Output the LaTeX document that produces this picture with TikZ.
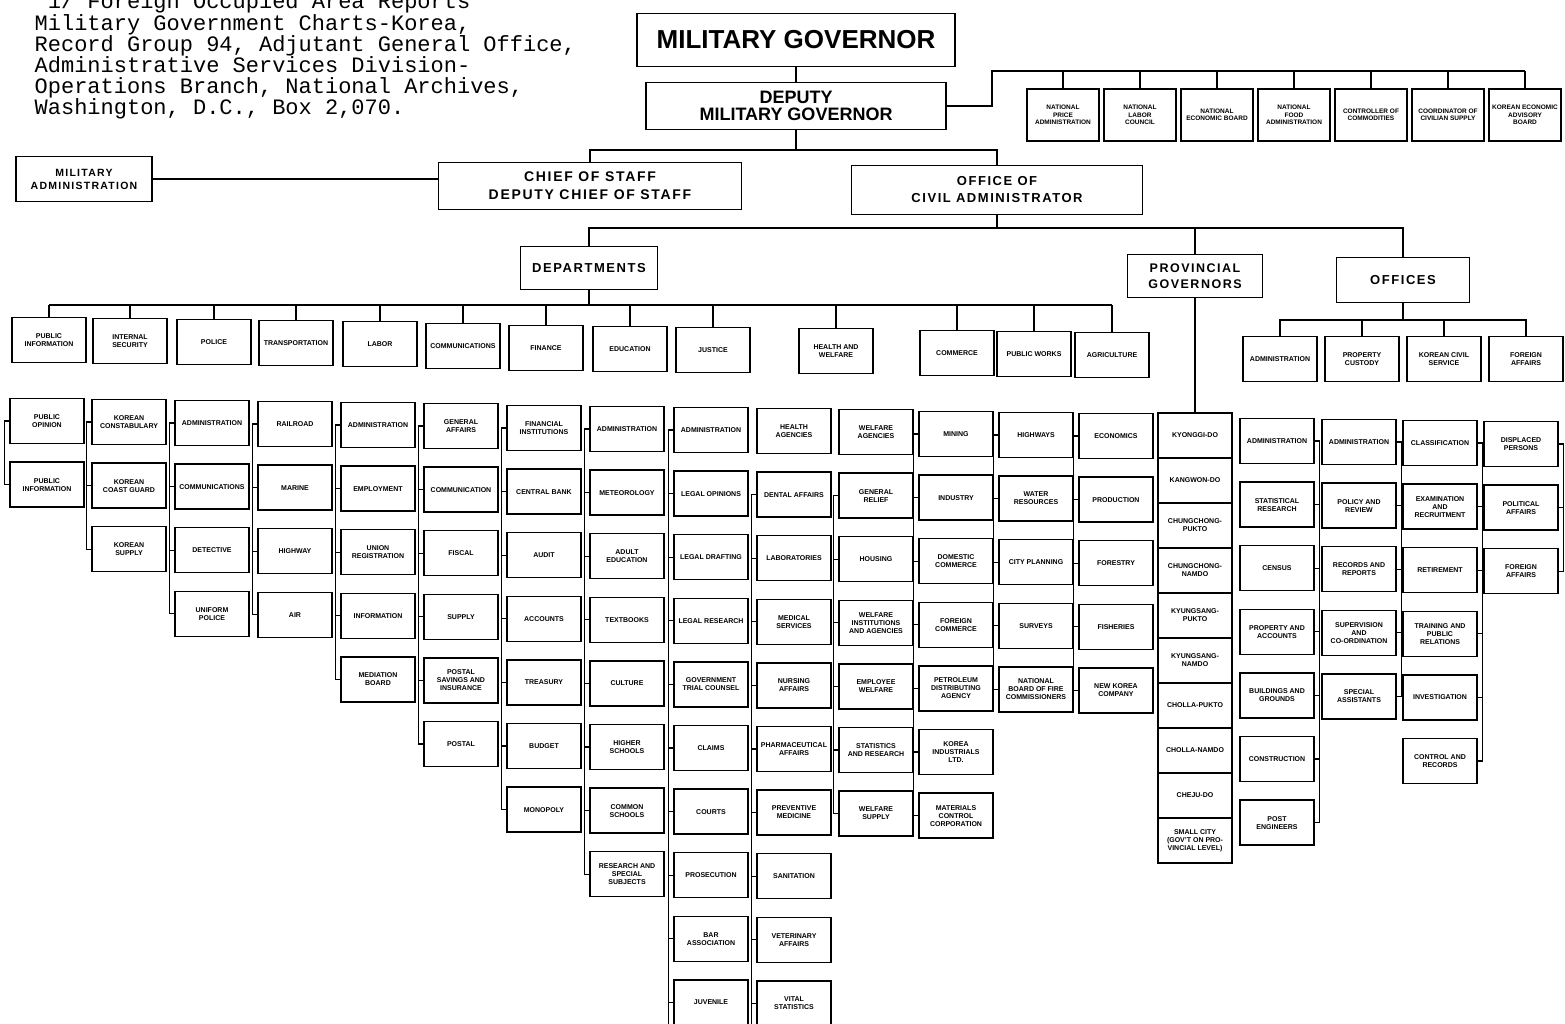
\documentclass[tikz,border=0pt]{standalone}
\usepackage{fontspec}
\setmainfont{Liberation Sans}
\setmonofont{Liberation Mono}
\newfontfamily\widesf[LetterSpace=12]{Liberation Sans}
\usetikzlibrary{calc}
\tikzset{box/.style={draw,line width=1.4pt,align=center,inner sep=2pt},
  sub/.style={draw,line width=1.3pt,minimum width=74pt,minimum height=45pt,inner sep=1pt,align=center,font=\fontsize{7}{8}\selectfont\bfseries},
  src/.style={anchor=base west,inner sep=0pt,font=\fontsize{22}{21}\selectfont\ttfamily}}
\newcommand\subcol[6]{%
  \foreach \lbl [count=\i] in {#6}{%
    \node[sub] (#1\i) at (#2,#3+63.6*\i-63.6) {\lbl};
    \ifnum\i=#4 \draw (#1\i.#5) -- ($(#1\i.#5)!-5pt!(#1\i.center)$);\fi
    \ifnum\i>#4 \pgfmathtruncatemacro\prev{\i-1}\draw ($(#1\prev.#5)!-5pt!(#1\prev.center)$) |- (#1\i.#5);\fi}}
\begin{document}
\begin{tikzpicture}[x=1pt,y=-1pt,line width=1.3pt]
\path[use as bounding box,fill=white] (0,0) rectangle (1565,1024);
\foreach \lbl [count=\i] in {{\ 1/ Foreign Occupied Area Reports},{Military Government Charts-Korea,},{Record Group 94, Adjutant General Office,},{Administrative Services Division-},{Operations Branch, National Archives,},{Washington, D.C., Box 2,070.}}
  \node[src] (src\i) at (34,9+21.2*\i-21.2) {\lbl};

\node[box,minimum width=318pt,minimum height=53pt,font=\fontsize{26}{28}\selectfont\bfseries] (mg) at (796,40) {MILITARY GOVERNOR};
\node[box,minimum width=300pt,minimum height=47pt,font=\fontsize{18}{17.5}\selectfont\bfseries] (dmg) at (796,106) {DEPUTY\\MILITARY GOVERNOR};
\node[box,minimum width=136pt,minimum height=45pt,font=\fontsize{10.5}{13}\selectfont\widesf\bfseries] (ma) at (84,179) {MILITARY\\ADMINISTRATION};
\node[box,minimum width=303pt,minimum height=47pt,font=\fontsize{14}{18}\selectfont\widesf\bfseries] (cos) at (590,186) {CHIEF OF STAFF\\DEPUTY CHIEF OF STAFF};
\node[box,minimum width=291pt,minimum height=49pt,font=\fontsize{13}{17}\selectfont\widesf\bfseries] (oca) at (997,190) {OFFICE OF\\CIVIL ADMINISTRATOR};
\node[box,minimum width=137pt,minimum height=43pt,font=\fontsize{13}{16}\selectfont\widesf\bfseries] (dep) at (589,268) {DEPARTMENTS};
\node[box,minimum width=135pt,minimum height=43pt,font=\fontsize{12.5}{16}\selectfont\widesf\bfseries] (pg) at (1195,276) {PROVINCIAL\\GOVERNORS};
\node[box,minimum width=133pt,minimum height=45pt,font=\fontsize{13}{16}\selectfont\widesf\bfseries] (off) at (1403,280) {OFFICES};

\foreach \lbl [count=\i] in {NATIONAL\\PRICE\\ADMINISTRATION,NATIONAL\\LABOR\\COUNCIL,NATIONAL\\ECONOMIC BOARD,NATIONAL\\FOOD\\ADMINISTRATION,CONTROLLER OF\\COMMODITIES,COORDINATOR OF\\CIVILIAN SUPPLY,KOREAN ECONOMIC\\ADVISORY\\BOARD}
  \node[sub,minimum width=72pt,minimum height=52pt,font=\fontsize{6.5}{7.5}\selectfont\bfseries] (t\i) at (1063+77*\i-77,115) {\lbl};
\foreach \lbl/\x/\y [count=\i] in {PUBLIC\\INFORMATION/49/340,INTERNAL\\SECURITY/130/341,POLICE/214/342,TRANSPORTATION/296/343,LABOR/380/344,COMMUNICATIONS/463/346,FINANCE/546/348,EDUCATION/630/349,JUSTICE/713/350,HEALTH AND\\WELFARE/836/351,COMMERCE/957/353,PUBLIC WORKS/1034/354,AGRICULTURE/1112/355}
  \node[sub] (d\i) at (\x,\y) {\lbl};
\foreach \lbl/\x [count=\i] in {ADMINISTRATION/1280,PROPERTY\\CUSTODY/1362,KOREAN CIVIL\\SERVICE/1444,FOREIGN\\AFFAIRS/1526}
  \node[sub] (o\i) at (\x,359) {\lbl};
\foreach \lbl [count=\i] in {KYONGGI-DO,KANGWON-DO,CHUNGCHONG-\\PUKTO,CHUNGCHONG-\\NAMDO,KYUNGSANG-\\PUKTO,KYUNGSANG-\\NAMDO,CHOLLA-PUKTO,CHOLLA-NAMDO,CHEJU-DO,SMALL CITY\\(GOV'T ON PRO-\\VINCIAL LEVEL)}
  \node[sub] (p\i) at (1195,390.5+45*\i) {\lbl};

\subcol{pinf}{47}{421}{1}{west}{PUBLIC\\OPINION,PUBLIC\\INFORMATION}
\subcol{sec}{129}{422}{1}{west}{KOREAN\\CONSTABULARY,KOREAN\\COAST GUARD,KOREAN\\SUPPLY}
\subcol{pol}{212}{423}{1}{west}{ADMINISTRATION,COMMUNICATIONS,DETECTIVE,UNIFORM\\POLICE}
\subcol{tra}{295}{424}{1}{west}{RAILROAD,MARINE,HIGHWAY,AIR}
\subcol{lab}{378}{425}{1}{west}{ADMINISTRATION,EMPLOYMENT,UNION\\REGISTRATION,INFORMATION,MEDIATION\\BOARD}
\subcol{com}{461}{426}{1}{west}{GENERAL\\AFFAIRS,COMMUNICATION,FISCAL,SUPPLY,POSTAL\\SAVINGS AND\\INSURANCE,POSTAL}
\subcol{fin}{544}{428}{1}{west}{FINANCIAL\\INSTITUTIONS,CENTRAL BANK,AUDIT,ACCOUNTS,TREASURY,BUDGET,MONOPOLY}
\subcol{edu}{627}{429}{1}{west}{ADMINISTRATION,METEOROLOGY,ADULT\\EDUCATION,TEXTBOOKS,CULTURE,HIGHER\\SCHOOLS,COMMON\\SCHOOLS,RESEARCH AND\\SPECIAL\\SUBJECTS}
\subcol{jus}{711}{430}{1}{west}{ADMINISTRATION,LEGAL OPINIONS,LEGAL DRAFTING,LEGAL RESEARCH,GOVERNMENT\\TRIAL COUNSEL,CLAIMS,COURTS,PROSECUTION,BAR\\ASSOCIATION,JUVENILE}
\subcol{hea}{794}{431}{2}{west}{HEALTH\\AGENCIES,DENTAL AFFAIRS,LABORATORIES,MEDICAL\\SERVICES,NURSING\\AFFAIRS,PHARMACEUTICAL\\AFFAIRS,PREVENTIVE\\MEDICINE,SANITATION,VETERINARY\\AFFAIRS,VITAL\\STATISTICS}
\subcol{wel}{876}{432}{2}{west}{WELFARE\\AGENCIES,GENERAL\\RELIEF,HOUSING,WELFARE\\INSTITUTIONS\\AND AGENCIES,EMPLOYEE\\WELFARE,STATISTICS\\AND RESEARCH,WELFARE\\SUPPLY}
\subcol{cmc}{956}{434}{1}{west}{MINING,INDUSTRY,DOMESTIC\\COMMERCE,FOREIGN\\COMMERCE,PETROLEUM\\DISTRIBUTING\\AGENCY,KOREA\\INDUSTRIALS\\LTD.,MATERIALS\\CONTROL\\CORPORATION}
\subcol{pw}{1036}{435}{1}{west}{HIGHWAYS,WATER\\RESOURCES,CITY PLANNING,SURVEYS,NATIONAL\\BOARD OF FIRE\\COMMISSIONERS}
\subcol{agr}{1116}{436}{1}{west}{ECONOMICS,PRODUCTION,FORESTRY,FISHERIES,NEW KOREA\\COMPANY}
\subcol{oadm}{1277}{441}{1}{east}{ADMINISTRATION,STATISTICAL\\RESEARCH,CENSUS,PROPERTY AND\\ACCOUNTS,BUILDINGS AND\\GROUNDS,CONSTRUCTION,POST\\ENGINEERS}
\subcol{prop}{1359}{442}{1}{east}{ADMINISTRATION,POLICY AND\\REVIEW,RECORDS AND\\REPORTS,SUPERVISION\\AND\\CO-ORDINATION,SPECIAL\\ASSISTANTS}
\subcol{civ}{1440}{443}{1}{east}{CLASSIFICATION,EXAMINATION\\AND\\RECRUITMENT,RETIREMENT,TRAINING AND\\PUBLIC\\RELATIONS,INVESTIGATION,CONTROL AND\\RECORDS}
\subcol{for}{1521}{444}{1}{east}{DISPLACED\\PERSONS,POLITICAL\\AFFAIRS,FOREIGN\\AFFAIRS}
\draw ($(jus10.west)!-5pt!(jus10.center)$) -- ++(0,25);
\draw ($(hea10.west)!-5pt!(hea10.center)$) -- ++(0,25);

\draw (mg) -- (dmg);
\coordinate (tbus) at (992,71);
\draw (dmg.east) -| (tbus) -- (t7.north |- tbus);
\foreach \i in {1,...,7} \draw (t\i.north |- tbus) -- (t\i.north);
\coordinate (cbus) at (796,150);
\draw (dmg) -- (cbus);
\draw (cos.north) |- (cbus) -| (oca.north);
\draw (ma.east) -- (ma.east -| cos.west);
\coordinate (obus) at (997,228);
\draw (oca) -- (obus);
\draw (dep.north) |- (obus) -| (off.north);
\draw (pg.north) -- (pg.north |- obus);
\coordinate (dbus) at (589,305);
\draw (dep) -- (dbus);
\draw (d1.north |- dbus) -- (d13.north |- dbus);
\foreach \i in {1,...,13} \draw (d\i.north |- dbus) -- (d\i.north);
\draw (pg) -- (p1);
\coordinate (fbus) at (1403,320);
\draw (off) -- (fbus);
\draw (o1.north) |- (fbus) -| (o4.north);
\foreach \i in {2,3} \draw (o\i.north |- fbus) -- (o\i.north);
\end{tikzpicture}
\end{document}
